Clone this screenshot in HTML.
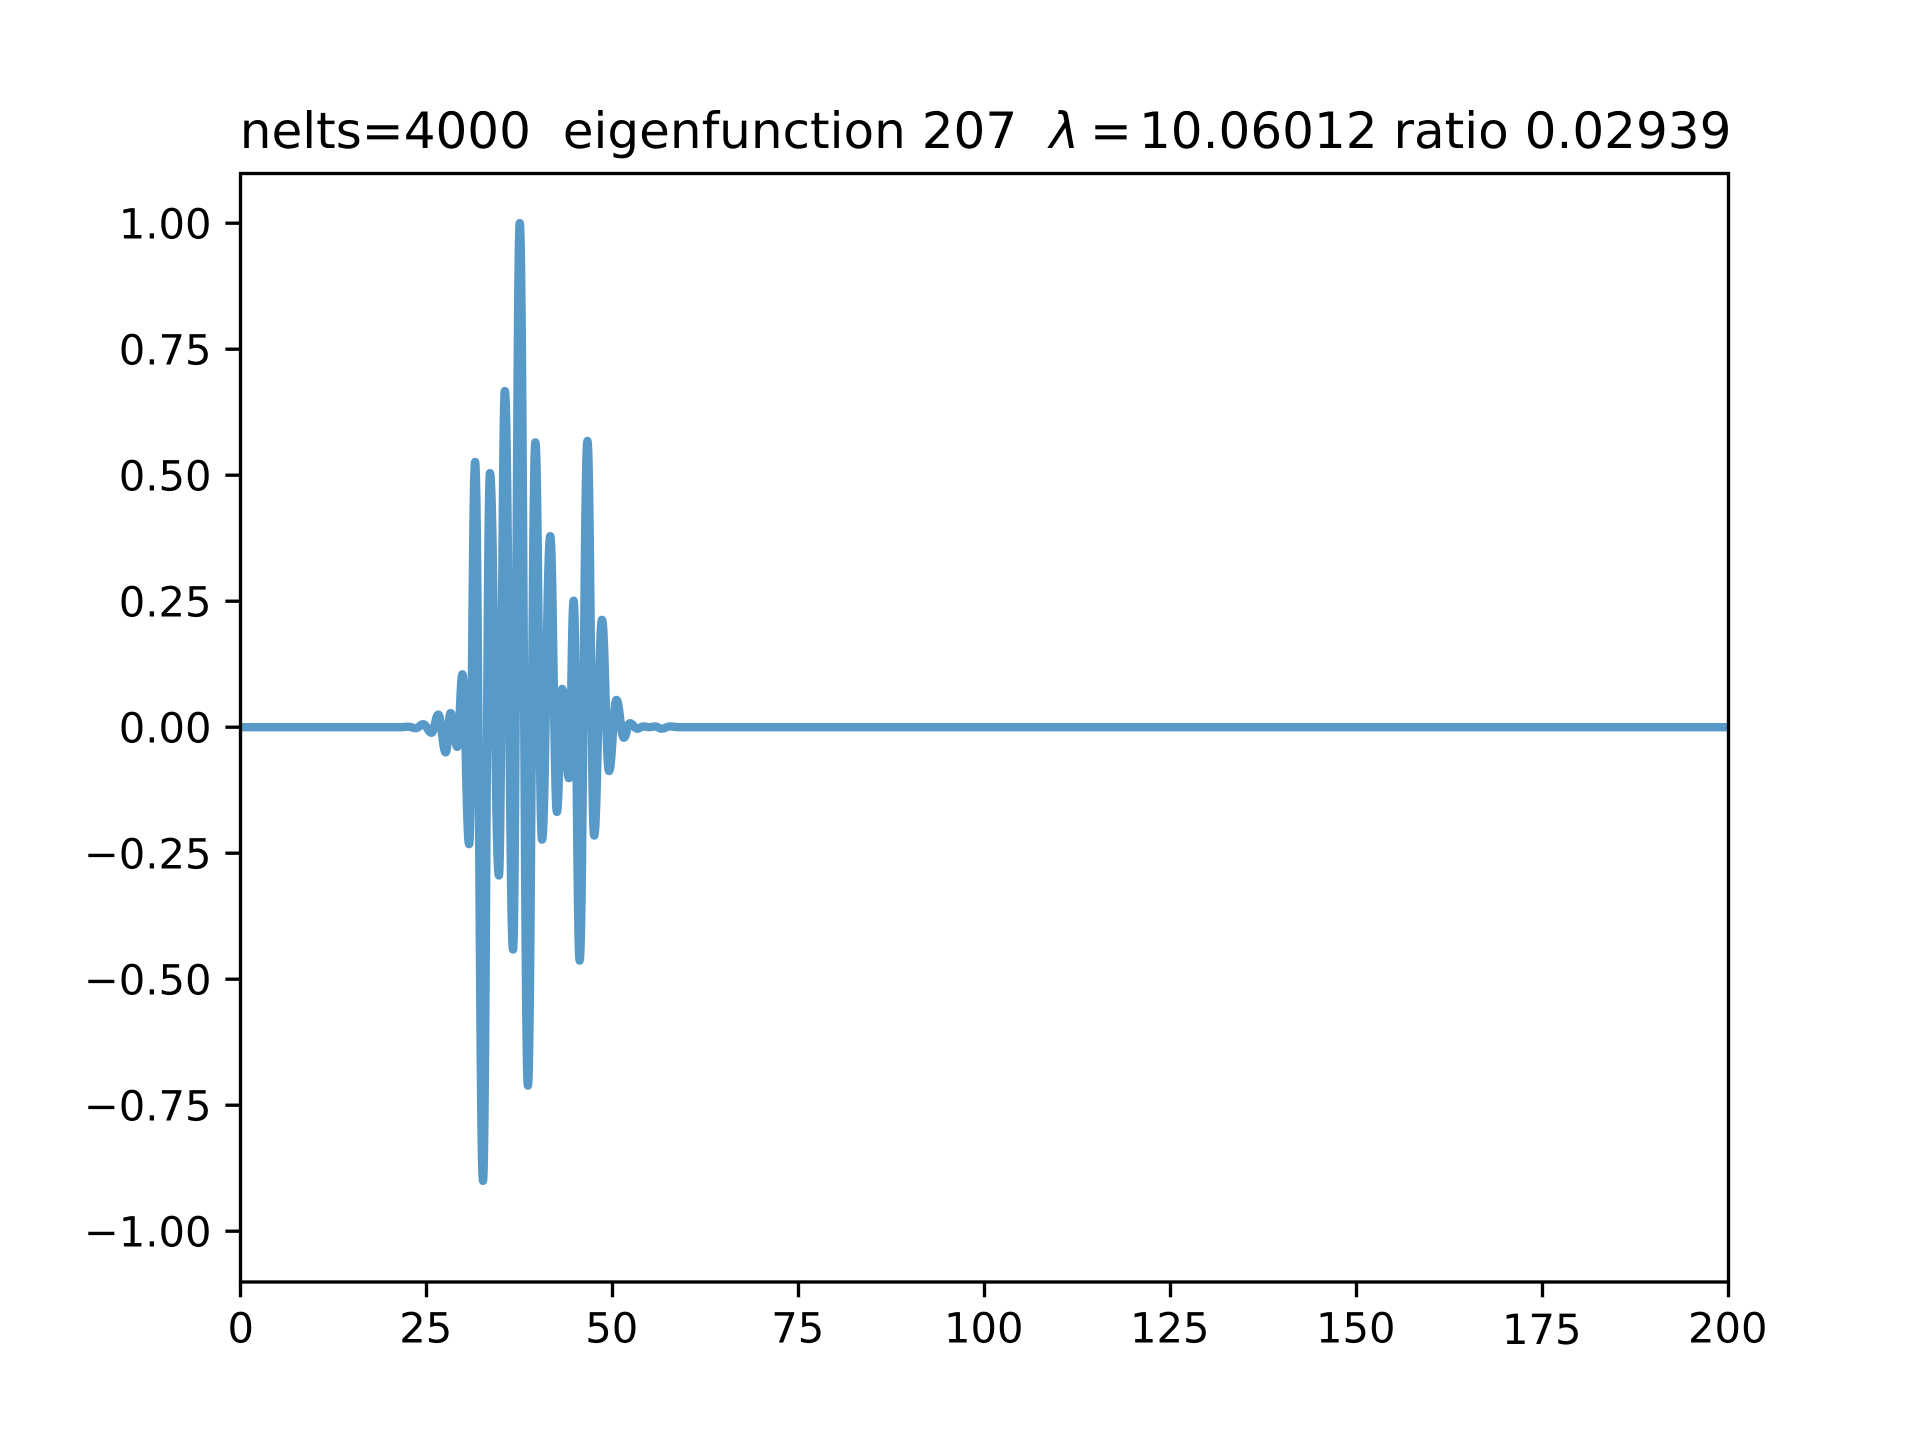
<!DOCTYPE html>
<html lang="en">
<head>
<meta charset="utf-8">
<title>Eigenfunction 207</title>
<style>
html,body{margin:0;padding:0;background:#fff;width:1920px;height:1440px;overflow:hidden}
svg{display:block}
text{font-family:"DejaVu Sans","Liberation Sans",sans-serif;fill:#000;white-space:pre;text-rendering:geometricPrecision}
.tick-text{font-size:41.67px}
.title-text{font-size:50px}
</style>
</head>
<body>
<svg id="chart" xmlns="http://www.w3.org/2000/svg" width="1920" height="1440" viewBox="0 0 1920 1440">
  <defs>
    <clipPath id="plot-clip"><rect x="240" y="172.8" width="1488" height="1108.8"/></clipPath>
  </defs>
  <rect x="0" y="0" width="1920" height="1440" fill="#fff"/>
  <g id="series-layer" clip-path="url(#plot-clip)"></g>
  <g id="tick-layer"></g>
  <rect x="240.5" y="173.5" width="1488" height="1108.5" fill="none" stroke="#000" stroke-width="3.33"/>
  <text class="title-text" y="148"><tspan x="239.8">nelts=4000  eigenfunction 207</tspan><tspan x="1049.5" font-style="italic">λ</tspan><tspan x="1090">=</tspan><tspan x="1139">10.06012 ratio 0.02939</tspan></text>
</svg>
<script>
const xTicks = [0, 25, 50, 75, 100, 125, 150, 175, 200];
const xTickLabels = ["0", "25", "50", "75", "100", "125", "150", "175", "200"];
const yTicks = [1, 0.75, 0.5, 0.25, 0, -0.25, -0.5, -0.75, -1];
const yTickLabels = ["1.00", "0.75", "0.50", "0.25", "0.00", "\u22120.25", "\u22120.50", "\u22120.75", "\u22121.00"];

const seriesX = [0, 21.6, 22.6, 23.66, 24.6, 25.76, 26.65, 27.65, 28.3, 29.2, 29.9, 30.8, 31.6, 32.66, 33.6, 34.8, 35.6, 36.7, 37.6, 38.7, 39.7, 40.6, 41.7, 42.6, 43.3, 44.2, 44.85, 45.65, 46.7, 47.6, 48.66, 49.6, 50.6, 51.6, 52.4, 53.4, 54.2, 55, 55.8, 56.7, 57.8, 59, 200];
const seriesY = [0, 0, 0.001, -0.002, 0.006, -0.011, 0.025, -0.05, 0.028, -0.039, 0.105, -0.232, 0.526, -0.9, 0.504, -0.294, 0.667, -0.441, 1, -0.711, 0.565, -0.223, 0.379, -0.168, 0.076, -0.101, 0.251, -0.463, 0.568, -0.215, 0.213, -0.087, 0.054, -0.021, 0.008, -0.003, 0.0015, 0, 0.0015, -0.003, 0.0015, 0, 0];

const SVG_NS = "http://www.w3.org/2000/svg";
const xMin = 0, xMax = 200, yMin = -1.1, yMax = 1.1;
const left = 240, right = 1728, top_ = 172.8, bottom = 1281.6;
const xScale = v => left + (v - xMin) / (xMax - xMin) * (right - left);
const yScale = v => bottom - (v - yMin) / (yMax - yMin) * (bottom - top_);

const seriesLayer = document.getElementById("series-layer");
const tickLayer = document.getElementById("tick-layer");

function buildPath(xs, ys) {
  const k = 0.42;
  let d = "M" + xScale(xs[0]).toFixed(2) + " " + yScale(ys[0]).toFixed(2);
  for (let i = 1; i < xs.length; i++) {
    const x0 = xScale(xs[i - 1]), y0 = yScale(ys[i - 1]);
    const x1 = xScale(xs[i]), y1 = yScale(ys[i]);
    const dx = x1 - x0;
    d += "C" + (x0 + dx * k).toFixed(2) + " " + y0.toFixed(2) + " " +
         (x1 - dx * k).toFixed(2) + " " + y1.toFixed(2) + " " +
         x1.toFixed(2) + " " + y1.toFixed(2);
  }
  return d;
}

const line = document.createElementNS(SVG_NS, "path");


line.setAttribute("d", buildPath(seriesX, seriesY));
line.setAttribute("fill", "none");
line.setAttribute("stroke", "#1f77b4");
line.setAttribute("stroke-opacity", "0.75");
line.setAttribute("stroke-width", "8.4");
line.setAttribute("stroke-linejoin", "round");
line.setAttribute("stroke-linecap", "round");
seriesLayer.appendChild(line);

xTicks.forEach((value, i) => {
  const x = xScale(value);
  const mark = document.createElementNS(SVG_NS, "line");
  
  
  mark.setAttribute("x1", Math.round(x) + 0.5);
  mark.setAttribute("x2", Math.round(x) + 0.5);
  mark.setAttribute("y1", 1282);
  mark.setAttribute("y2", 1297.3);
  mark.setAttribute("stroke", "#000");
  mark.setAttribute("stroke-width", "3.33");
  tickLayer.appendChild(mark);
  const label = document.createElementNS(SVG_NS, "text");
  
  
  label.setAttribute("class", "tick-text");
  label.setAttribute("x", x + (xTickLabels[i] === "0" ? 0.8 : -0.3));
  label.setAttribute("y", xTickLabels[i] === "175" ? 1344 : 1342.5);
  label.setAttribute("text-anchor", "middle");
  label.textContent = xTickLabels[i];
  tickLayer.appendChild(label);
});

yTicks.forEach((value, i) => {
  const y = yScale(value);
  const mark = document.createElementNS(SVG_NS, "line");
  
  
  mark.setAttribute("x1", left - 14.6);
  mark.setAttribute("x2", left);
  mark.setAttribute("y1", y);
  mark.setAttribute("y2", y);
  mark.setAttribute("stroke", "#000");
  mark.setAttribute("stroke-width", "3.33");
  tickLayer.appendChild(mark);
  const label = document.createElementNS(SVG_NS, "text");
  
  
  label.setAttribute("class", "tick-text");
  label.setAttribute("x", 211.5);
  label.setAttribute("y", y + 15.5);
  label.setAttribute("text-anchor", "end");
  label.textContent = yTickLabels[i];
  tickLayer.appendChild(label);
});
</script>
</body>
</html>
